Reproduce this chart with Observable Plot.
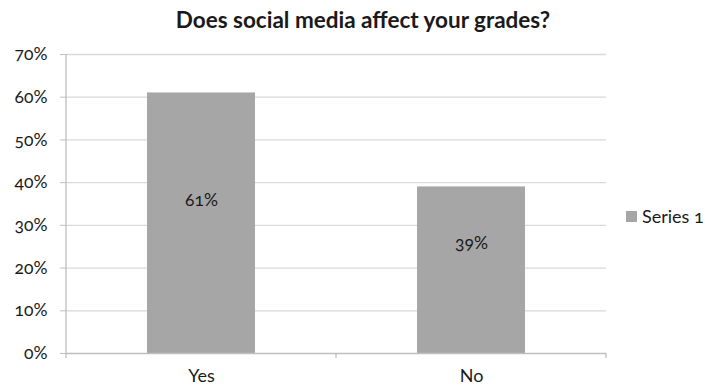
<!DOCTYPE html>
<html>
<head>
<meta charset="utf-8">
<script src="https://cdn.jsdelivr.net/npm/d3@7"></script>
<script src="https://cdn.jsdelivr.net/npm/@observablehq/plot@0.6"></script>
<style>
  body { margin: 0; background: #fff; }
  #chart { position: relative; width: 705px; height: 389px; font-family: Lato, "Open Sans", sans-serif; color: #1a1a1a; font-variant-numeric: oldstyle-nums; }
  #chart svg { display: block; }
  #chart svg text { font-variant-numeric: oldstyle-nums; font-feature-settings: "onum" 1; }
  .title { position: absolute; left: 0; width: 726px; top: 7px; text-align: center; font-weight: 700; font-size: 22.5px; line-height: 26px; }
  .legend { position: absolute; left: 626px; top: 205px; display: flex; align-items: center; font-size: 18px; line-height: 23px; font-feature-settings: "onum" 1; }
  .legend .swatch { width: 11px; height: 11px; background: #a6a6a6; margin-right: 5px; }
</style>
</head>
<body>
<div id="chart"></div>
<script>
// Survey answers and their shares
const categories = ["Yes", "No"];
const shares = [0.61, 0.39];
const yTicks = [0, 0.1, 0.2, 0.3, 0.4, 0.5, 0.6, 0.7];
const chartTitle = "Does social media affect your grades?";
const seriesName = "Series 1";

const data = categories.map((answer, i) => ({answer, share: shares[i]}));
const pct = d3.format(".0%");

const gridColor = "#d9d9d9";
const axisColor = "#bfbfbf";
const barColor = "#a6a6a6";
const ink = "#1a1a1a";

const chart = Plot.plot({
  width: 705,
  height: 389,
  marginLeft: 66,
  marginRight: 99,
  marginTop: 54,
  marginBottom: 36,
  style: {fontFamily: "Lato, 'Open Sans', sans-serif", fontSize: "17px", color: ink, background: "#fff"},
  x: {domain: categories, paddingInner: 0.6, paddingOuter: 0.3, label: null},
  y: {domain: [0, 0.7], label: null},
  marks: [
    Plot.ruleY(yTicks.filter(t => t > 0), {stroke: gridColor, strokeWidth: 1.3}),
    Plot.barY(data, {x: "answer", y: "share", fill: barColor}),
    Plot.ruleY([0], {stroke: axisColor, strokeWidth: 1.3}),
    Plot.axisY({ticks: yTicks, tickFormat: pct, tickSize: 6, tickPadding: 13, stroke: axisColor, fill: ink, fontSize: 17.5}),
    Plot.axisX({tickSize: 0, tickPadding: 16, fill: ink, fontSize: 18}),
    // value labels inside the bars
    Plot.text(data.filter(d => d.answer === "Yes"), {x: "answer", y: d => d.share / 2, text: d => pct(d.share), dy: -23, fontSize: 17.5, fill: ink}),
    Plot.text(data.filter(d => d.answer === "No"), {x: "answer", y: d => d.share / 2, text: d => pct(d.share), dy: -27, fontSize: 17.5, fill: ink})
  ]
});

// vertical axis line and category boundary ticks along the baseline
const xs = chart.scale("x");
const ys = chart.scale("y");
const svg = d3.select(chart);
const x0 = xs.range[0];
const y0 = ys.apply(0);
const yTop = ys.apply(0.7);
const g = svg.append("g").attr("stroke", axisColor).attr("stroke-width", 1.3);
g.append("line").attr("x1", x0).attr("x2", x0).attr("y1", yTop).attr("y2", y0 + 5);
const half = (xs.step - xs.bandwidth) / 2;
const edges = categories.map(c => xs.apply(c) + xs.bandwidth + half);
edges.forEach(e => g.append("line").attr("x1", e).attr("x2", e).attr("y1", y0).attr("y2", y0 + 5));

const root = document.getElementById("chart");
root.append(chart);

const titleEl = document.createElement("div");
titleEl.className = "title";
titleEl.textContent = chartTitle;
root.append(titleEl);

const legend = document.createElement("div");
legend.className = "legend";
legend.innerHTML = `<span class="swatch"></span><span></span>`;
legend.lastChild.textContent = seriesName;
root.append(legend);
</script>
</body>
</html>
